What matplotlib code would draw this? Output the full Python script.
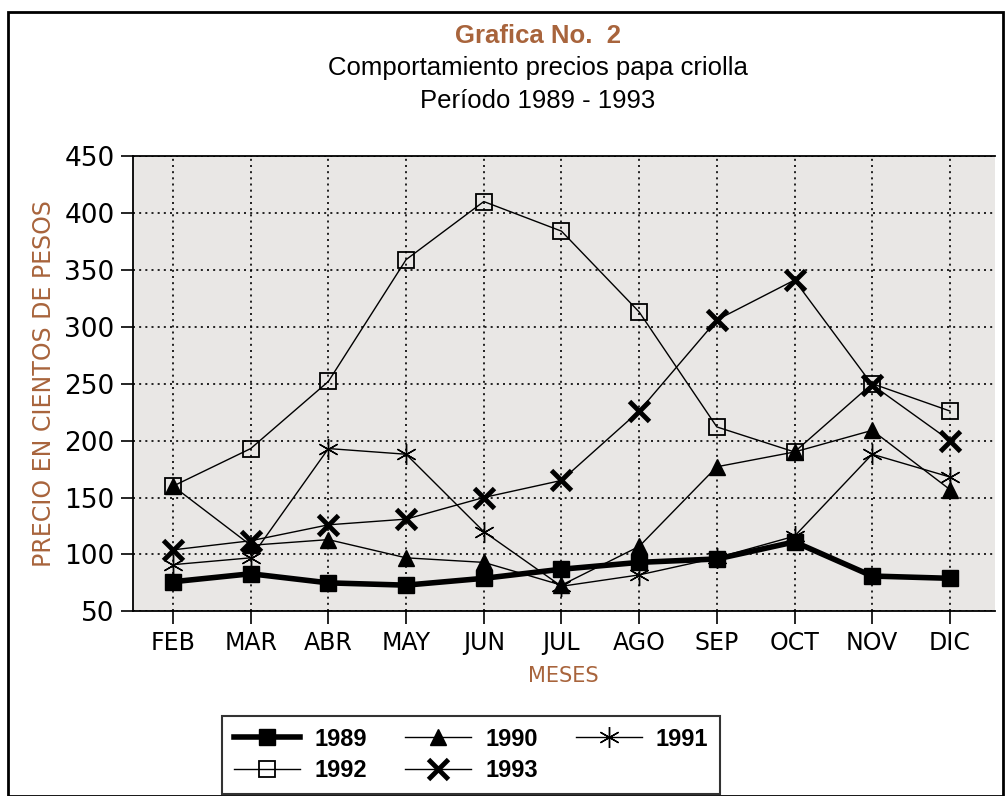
import numpy as np
import matplotlib
matplotlib.use("Agg")
import matplotlib.pyplot as plt
from matplotlib.patches import Rectangle

# ---- data (cientos de pesos) ----
meses = ["FEB", "MAR", "ABR", "MAY", "JUN", "JUL", "AGO", "SEP", "OCT", "NOV", "DIC"]
p1989 = [76, 83, 75, 73, 79, 87, 93, 96, 111, 81, 79]
p1990 = [160, 108, 113, 97, 93, 73, 107, 177, 190, 209, 157]
p1991 = [91, 97, 193, 188, 120, 72, 82, 97, 116, 188, 168]
p1992 = [160, 193, 252, 359, 410, 384, 313, 212, 190, 250, 226]
p1993 = [104, 112, 126, 131, 150, 165, 226, 306, 341, 249, 200]

brown = "#a8643c"
x = np.arange(len(meses))

fig = plt.figure(figsize=(10.05, 7.96), dpi=100)
ax = fig.add_axes([0.132, 0.232, 0.858, 0.572])
ax.set_facecolor("#e9e7e5")

h89, = ax.plot(x, p1989, color="black", lw=4, marker="s", ms=12,
               mfc="black", label="1989", zorder=3)
h90, = ax.plot(x, p1990, color="black", lw=1, marker="^", ms=12,
               mfc="black", label="1990", zorder=3)
h91, = ax.plot(x, p1991, color="black", lw=1, marker=(6, 2, 0), ms=15,
               mew=1, label="1991", zorder=3)
h92, = ax.plot(x, p1992, color="black", lw=1, marker="s", ms=12,
               mfc="none", mew=1.3, label="1992", zorder=3)
h93, = ax.plot(x, p1993, color="black", lw=1, marker="x", ms=14,
               mew=3.5, label="1993", zorder=3)

ax.set_xlim(-0.52, 10.58)
ax.set_ylim(50, 450)
ax.set_xticks(x)
ax.set_xticklabels(meses)
ax.set_yticks(np.arange(50, 451, 50))
ax.grid(True, color="black", ls=(0, (1.2, 2.5)), lw=1.2)
ax.set_axisbelow(True)
ax.tick_params(direction="out", length=9, width=1.2, labelsize=19, pad=4)
ax.tick_params(axis="x", labelsize=17, pad=5)
for s in ["left", "bottom", "top"]:
    ax.spines[s].set_linewidth(1.3)
ax.spines["right"].set_visible(False)

ax.set_ylabel("PRECIO EN CIENTOS DE PESOS", color=brown, fontsize=17, labelpad=6)
ax.set_xlabel("MESES", color=brown, fontsize=15, labelpad=8)

# titles
fig.text(0.535, 0.955, "Grafica No.  2", ha="center", va="center", color=brown,
         fontsize=18.5, fontweight="bold", family="Liberation Sans")
fig.text(0.535, 0.915, "Comportamiento precios papa criolla", ha="center",
         va="center", fontsize=18.5, family="Liberation Sans")
fig.text(0.535, 0.873, "Período 1989 - 1993", ha="center", va="center",
         fontsize=18.5, family="Liberation Sans")

# legend filled row-wise
leg = fig.legend([h89, h92, h90, h93, h91], ["1989", "1992", "1990", "1993", "1991"],
                 ncol=3, loc="lower center", bbox_to_anchor=(0.469, -0.012),
                 frameon=True, fancybox=False, edgecolor="black",
                 prop={"family": "Liberation Sans", "weight": "bold", "size": 17},
                 handlelength=2.8, columnspacing=1.6, handletextpad=0.6,
                 borderpad=0.5, labelspacing=0.35)
leg.get_frame().set_linewidth(1.5)

# outer frame
fig.patches.append(Rectangle((0.008, 0.0), 0.99, 0.985, transform=fig.transFigure,
                             fill=False, edgecolor="black", lw=2))

fig.savefig("out.png", dpi=100)
